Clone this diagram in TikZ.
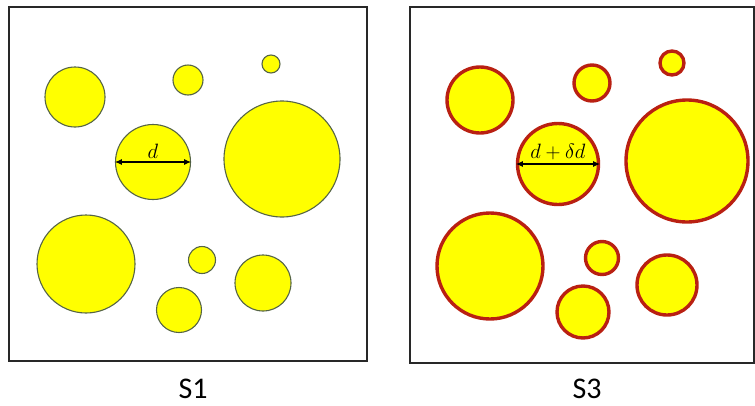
\documentclass[tikz,border=0pt]{standalone}
\usepackage{fontspec}
\setsansfont{Carlito}
\usetikzlibrary{arrows.meta}
\definecolor{pyel}{RGB}{255,255,0}
\definecolor{gedge}{RGB}{85,100,70}
\definecolor{redge}{RGB}{185,32,18}
\definecolor{frame}{RGB}{40,40,40}
\tikzset{
  panel/.style={draw=frame, line width=1.6pt},
  grain/.style={circle, fill=pyel, draw=gedge, line width=1.1pt, inner sep=0pt},
  coated/.style={circle, fill=pyel, draw=redge, line width=3.4pt, inner sep=0pt},
  dimarrow/.style={{Latex[length=7pt,width=6pt]}-{Latex[length=7pt,width=6pt]}, line width=1.1pt, black},
  dimlabel/.style={font=\fontsize{20}{22}\selectfont, inner sep=0pt},
  caption/.style={font=\sffamily\fontsize{30}{32}\selectfont, anchor=base},
}
\begin{document}
\begin{tikzpicture}[x=1pt,y=-1pt]
\useasboundingbox (0,0) rectangle (755,405);
% S1 panel
\draw[panel] (9,7) rectangle (367,361);
\node[grain, minimum size=60] (a1) at (75,97) {};
\node[grain, minimum size=30] (a2) at (188,80) {};
\node[grain, minimum size=18] (a3) at (271,64) {};
\node[grain, minimum size=75] (a4) at (153,162) {};
\node[grain, minimum size=116] (a5) at (282,159) {};
\node[grain, minimum size=98] (a6) at (86,264) {};
\node[grain, minimum size=27] (a7) at (202,260) {};
\node[grain, minimum size=56] (a8) at (263,283) {};
\node[grain, minimum size=45] (a9) at (179,310) {};
\draw[dimarrow] (a4.west) -- (a4.east);
\node[dimlabel] (dl) at (153,151) {$d$};
\node[caption] (c1) at (193,398) {S1};
% S3 panel
\draw[panel] (410,7) rectangle (754,363);
\node[coated, minimum size=66] (b1) at (480,100) {};
\node[coated, minimum size=36] (b2) at (592,83) {};
\node[coated, minimum size=24] (b3) at (672,63) {};
\node[coated, minimum size=81] (b4) at (558,164) {};
\node[coated, minimum size=122] (b5) at (687,161) {};
\node[coated, minimum size=106] (b6) at (490,266) {};
\node[coated, minimum size=33] (b7) at (602,258) {};
\node[coated, minimum size=60] (b8) at (667,285) {};
\node[coated, minimum size=52] (b9) at (583,312) {};
\draw[dimarrow] (b4.west) -- (b4.east);
\node[dimlabel] (dl2) at (558,152) {$d+\delta d$};
\node[caption] (c3) at (587,398) {S3};
\end{tikzpicture}
\end{document}
